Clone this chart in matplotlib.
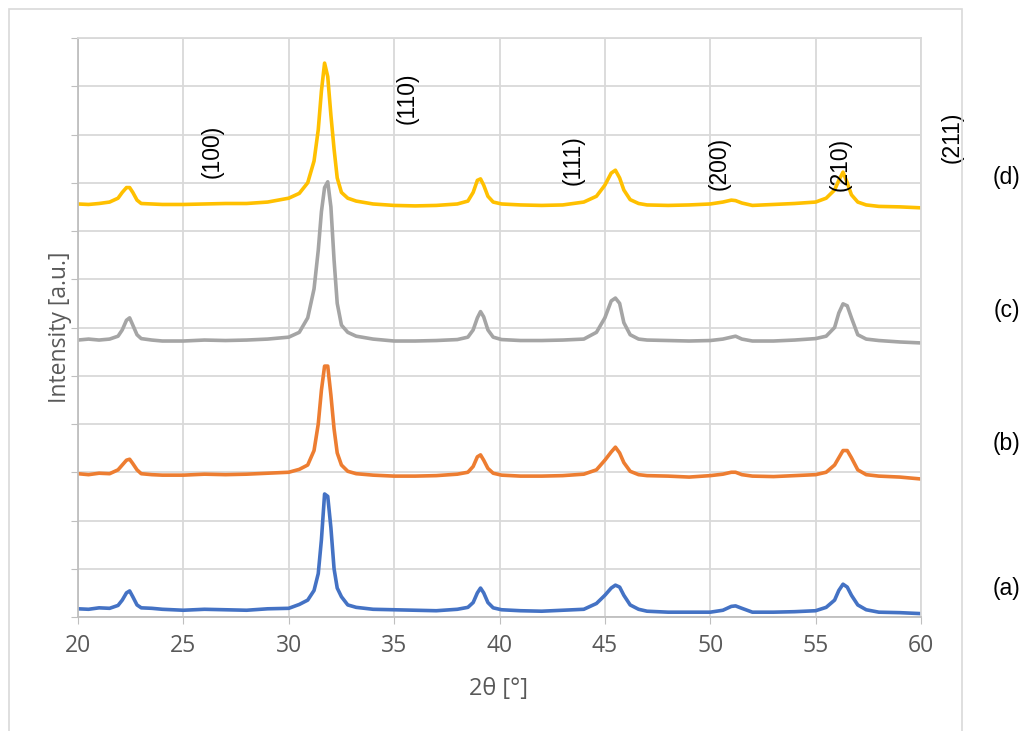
import matplotlib
matplotlib.use("Agg")
import matplotlib.pyplot as plt
from matplotlib.patches import Rectangle

# 2theta grid (deg) shared by the four scans, intensities in arbitrary (offset) units
two_theta = [20, 20.5, 21, 21.5, 21.9, 22.1, 22.3, 22.45, 22.6, 22.8,
             23.0, 23.5, 24, 25, 26, 27, 28, 29, 30, 30.5,
             30.9, 31.2, 31.4, 31.55, 31.7, 31.85, 32.0, 32.15, 32.3, 32.5,
             32.8, 33.2, 34, 35, 36, 37, 38, 38.5, 38.75, 38.95,
             39.1, 39.25, 39.45, 39.7, 40.1, 41, 42, 43, 44, 44.6,
             45.0, 45.3, 45.5, 45.7, 45.9, 46.2, 46.6, 47, 48, 49,
             50, 50.6, 51.0, 51.2, 51.5, 52, 53, 54, 55, 55.5,
             55.9, 56.1, 56.3, 56.5, 56.7, 57.0, 57.4, 58, 59, 60]

int_a = [0.17, 0.16, 0.19, 0.18, 0.24, 0.35, 0.50, 0.54, 0.42, 0.25,
         0.19, 0.18, 0.16, 0.14, 0.16, 0.15, 0.14, 0.17, 0.18, 0.26,
         0.35, 0.55, 0.90, 1.60, 2.55, 2.50, 1.85, 1.00, 0.60, 0.42,
         0.25, 0.20, 0.16, 0.15, 0.14, 0.13, 0.16, 0.20, 0.30, 0.50,
         0.60, 0.50, 0.30, 0.19, 0.15, 0.13, 0.12, 0.14, 0.16, 0.28,
         0.45, 0.60, 0.66, 0.62, 0.45, 0.25, 0.16, 0.12, 0.10, 0.10,
         0.10, 0.14, 0.22, 0.23, 0.18, 0.10, 0.10, 0.11, 0.13, 0.20,
         0.35, 0.55, 0.68, 0.62, 0.45, 0.25, 0.15, 0.10, 0.09, 0.07]

int_b = [2.97, 2.95, 2.98, 2.97, 3.05, 3.15, 3.25, 3.27, 3.18, 3.05,
         2.97, 2.95, 2.94, 2.94, 2.96, 2.95, 2.96, 2.98, 3.00, 3.06,
         3.15, 3.45, 4.00, 4.70, 5.20, 5.20, 4.60, 3.90, 3.40, 3.15,
         3.02, 2.97, 2.94, 2.92, 2.92, 2.93, 2.96, 3.00, 3.12, 3.32,
         3.36, 3.25, 3.08, 2.98, 2.94, 2.92, 2.92, 2.93, 2.96, 3.05,
         3.25, 3.42, 3.52, 3.40, 3.20, 3.02, 2.95, 2.93, 2.92, 2.90,
         2.93, 2.96, 3.00, 3.00, 2.95, 2.92, 2.91, 2.93, 2.95, 3.00,
         3.15, 3.30, 3.45, 3.45, 3.30, 3.05, 2.95, 2.92, 2.90, 2.86]

int_c = [5.74, 5.76, 5.74, 5.76, 5.82, 5.95, 6.15, 6.20, 6.05, 5.85,
         5.77, 5.74, 5.72, 5.72, 5.74, 5.73, 5.74, 5.76, 5.80, 5.90,
         6.20, 6.80, 7.60, 8.40, 8.90, 9.02, 8.50, 7.40, 6.50, 6.05,
         5.90, 5.82, 5.76, 5.72, 5.72, 5.73, 5.75, 5.80, 5.95, 6.20,
         6.33, 6.22, 5.95, 5.80, 5.75, 5.73, 5.73, 5.74, 5.76, 5.90,
         6.20, 6.55, 6.61, 6.50, 6.10, 5.85, 5.76, 5.74, 5.73, 5.72,
         5.73, 5.76, 5.80, 5.82, 5.76, 5.72, 5.72, 5.74, 5.77, 5.82,
         6.00, 6.30, 6.49, 6.45, 6.20, 5.85, 5.76, 5.73, 5.70, 5.68]

int_d = [8.56, 8.55, 8.57, 8.60, 8.68, 8.80, 8.90, 8.90, 8.80, 8.64,
         8.57, 8.56, 8.55, 8.55, 8.56, 8.57, 8.57, 8.60, 8.68, 8.78,
         9.00, 9.45, 10.10, 10.90, 11.48, 11.20, 10.40, 9.70, 9.10, 8.80,
         8.68, 8.62, 8.56, 8.53, 8.52, 8.53, 8.56, 8.62, 8.80, 9.05,
         9.08, 8.95, 8.72, 8.60, 8.56, 8.54, 8.53, 8.54, 8.60, 8.72,
         8.95, 9.20, 9.26, 9.10, 8.85, 8.65, 8.57, 8.54, 8.53, 8.54,
         8.56, 8.60, 8.64, 8.63, 8.58, 8.53, 8.55, 8.57, 8.60, 8.68,
         8.85, 9.05, 9.22, 9.00, 8.75, 8.60, 8.54, 8.51, 8.50, 8.48]

series = [int_a, int_b, int_c, int_d]
series_colors = ["#4472C4", "#ED7D31", "#A5A5A5", "#FFC000"]
series_names = ["(a)", "(b)", "(c)", "(d)"]
name_y = [0.6, 3.6, 6.35, 9.1]

# Miller index labels: (text, 2theta, height)
hkl_labels = ["(100)", "(110)", "(111)", "(200)", "(210)", "(211)"]
hkl_x = [26.36, 35.6, 43.5, 50.4, 56.16, 61.5]
hkl_y = [9.64, 10.76, 9.47, 9.39, 9.37, 9.95]

W, H = 1027, 731
fig = plt.figure(figsize=(W / 100, H / 100), dpi=100)
ax = fig.add_axes([78 / W, 1 - 617 / H, (921 - 78) / W, (617 - 38) / H])

# outer chart-area frame
fig.patches.append(Rectangle((9 / W, -0.2), (962 - 9) / W, 1.2 - 9 / H,
                             transform=fig.transFigure, fill=False,
                             edgecolor="#d9d9d9", linewidth=1.2, zorder=0))

for vals, col in zip(series, series_colors):
    ax.plot(two_theta, vals, color=col, linewidth=2.6, solid_joinstyle="round")

ax.set_xlim(20, 60)
ax.set_ylim(0, 12)
ax.set_xticks(range(20, 61, 5))
ax.set_yticks(range(0, 13))
ax.set_yticklabels([])
ax.grid(True, color="#d9d9d9", linewidth=1.3)
ax.set_axisbelow(True)
ax.tick_params(axis="x", direction="out", length=5, color="#bfbfbf",
               labelsize=16.5, labelcolor="#595959", pad=7)
ax.tick_params(axis="y", direction="out", length=5, color="#bfbfbf")
for t in ax.get_xticklabels():
    t.set_family("Open Sans")

ax.spines["left"].set_color("#bfbfbf")
ax.spines["bottom"].set_color("#bfbfbf")
ax.spines["top"].set_color("#d9d9d9")
ax.spines["right"].set_color("#d9d9d9")
for s in ax.spines.values():
    s.set_linewidth(1.3)

ax.set_ylabel("Intensity [a.u.]", fontsize=16.5, color="#595959", family="Open Sans")
ax.yaxis.set_label_coords(-0.007, 0.5)
ax.set_xlabel("2θ [°]", fontsize=17, color="#595959", family="Open Sans")
ax.xaxis.set_label_coords(0.4994, -0.1036)

for lab, x, y in zip(hkl_labels, hkl_x, hkl_y):
    ax.text(x, y, lab, rotation=90, ha="center", va="center", fontsize=16.5,
            family="Liberation Sans", color="black", clip_on=False)

for lab, y in zip(series_names, name_y):
    ax.text(1.102, y, lab, transform=ax.get_yaxis_transform(), ha="center",
            va="center", fontsize=16.5, family="Liberation Sans", color="black",
            clip_on=False)

fig.savefig("out.png", dpi=100)
